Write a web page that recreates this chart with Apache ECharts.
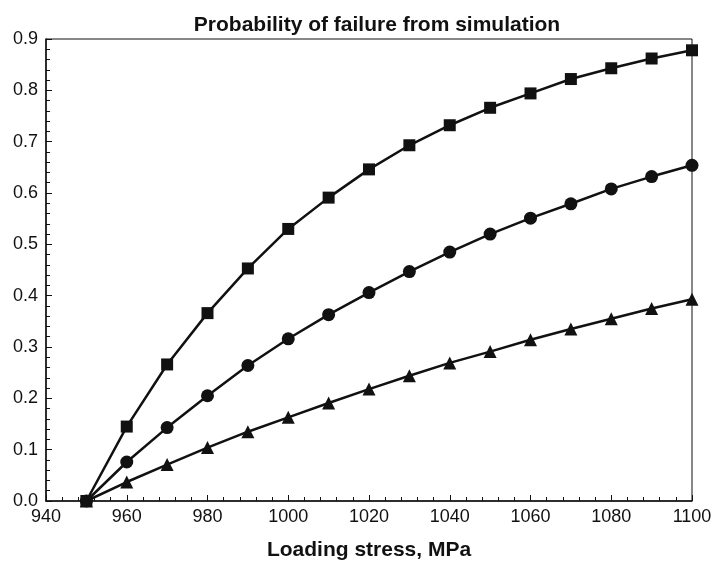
<!DOCTYPE html>
<html>
<head>
    <meta charset="utf-8">
    <title>Probability of failure</title>
    <script src="https://cdn.jsdelivr.net/npm/echarts@6/dist/echarts.min.js"></script>
</head>
<body style="margin:0">
    <div id="main" style="width: 715px;height:566px;"></div>
    <script type="text/javascript">
    // loading stress, MPa
    var stress = [950, 960, 970, 980, 990, 1000, 1010, 1020, 1030, 1040, 1050, 1060, 1070, 1080, 1090, 1100];
    // three curves (square / circle / triangle markers)
    var squareVals = [0, 0.145, 0.266, 0.366, 0.453, 0.530, 0.591, 0.646, 0.693, 0.732, 0.766, 0.794, 0.822, 0.843, 0.862, 0.878];
    var circleVals = [0, 0.076, 0.143, 0.205, 0.264, 0.316, 0.363, 0.406, 0.447, 0.485, 0.520, 0.551, 0.579, 0.608, 0.632, 0.654];
    var triangleVals = [0, 0.037, 0.071, 0.104, 0.135, 0.163, 0.191, 0.218, 0.244, 0.269, 0.291, 0.314, 0.335, 0.355, 0.375, 0.393];

    function pairs(vals) {
        return stress.map(function (x, i) { return [x, vals[i]]; });
    }

    var myChart = echarts.init(document.getElementById('main'));
    var font = 'Liberation Sans, Arial, sans-serif';

    function line(vals, symbol, size) {
        return {
            type: 'line',
            data: pairs(vals),
            symbol: symbol,
            symbolSize: size,
            showSymbol: true,
            lineStyle: { color: '#111', width: 2.5 },
            itemStyle: { color: '#111' },
            animation: false
        };
    }

    var option = {
        title: {
            text: 'Probability of failure from simulation',
            left: 372,
            textAlign: 'center',
            top: 10,
            textStyle: { fontFamily: font, fontSize: 21, fontWeight: 'bold', color: '#111' }
        },
        grid: {
            left: 46, right: 23, top: 39, bottom: 61,
            show: true, borderColor: '#111', borderWidth: 1
        },
        xAxis: {
            type: 'value',
            min: 940, max: 1100, interval: 20,
            name: 'Loading stress, MPa',
            nameLocation: 'middle',
            nameGap: 39,
            nameTextStyle: { fontFamily: font, fontSize: 21, fontWeight: 'bold', color: '#111' },
            axisLine: { lineStyle: { color: '#111', width: 1.5 } },
            axisTick: { inside: true, length: 6, lineStyle: { color: '#111' } },
            minorTick: { show: true, splitNumber: 5, length: 4, lineStyle: { color: '#111' } },
            splitLine: { show: false },
            axisLabel: {
                fontFamily: font, fontSize: 18, color: '#111', margin: 7,
                formatter: function (v) { return String(v); }
            }
        },
        yAxis: {
            type: 'value',
            min: 0, max: 0.9, interval: 0.1,
            axisLine: { show: true, lineStyle: { color: '#111', width: 1.5 } },
            axisTick: { show: true, inside: true, length: 6, lineStyle: { color: '#111' } },
            minorTick: { show: true, splitNumber: 5, length: 4, lineStyle: { color: '#111' } },
            splitLine: { show: false },
            axisLabel: {
                fontFamily: font, fontSize: 18, color: '#111', margin: 8,
                formatter: function (v) { return v.toFixed(1); }
            }
        },
        series: [
            line(squareVals, 'rect', 12),
            line(circleVals, 'circle', 13),
            line(triangleVals, 'triangle', 13)
        ]
    };

    myChart.setOption(option);
    </script>
</body>
</html>
